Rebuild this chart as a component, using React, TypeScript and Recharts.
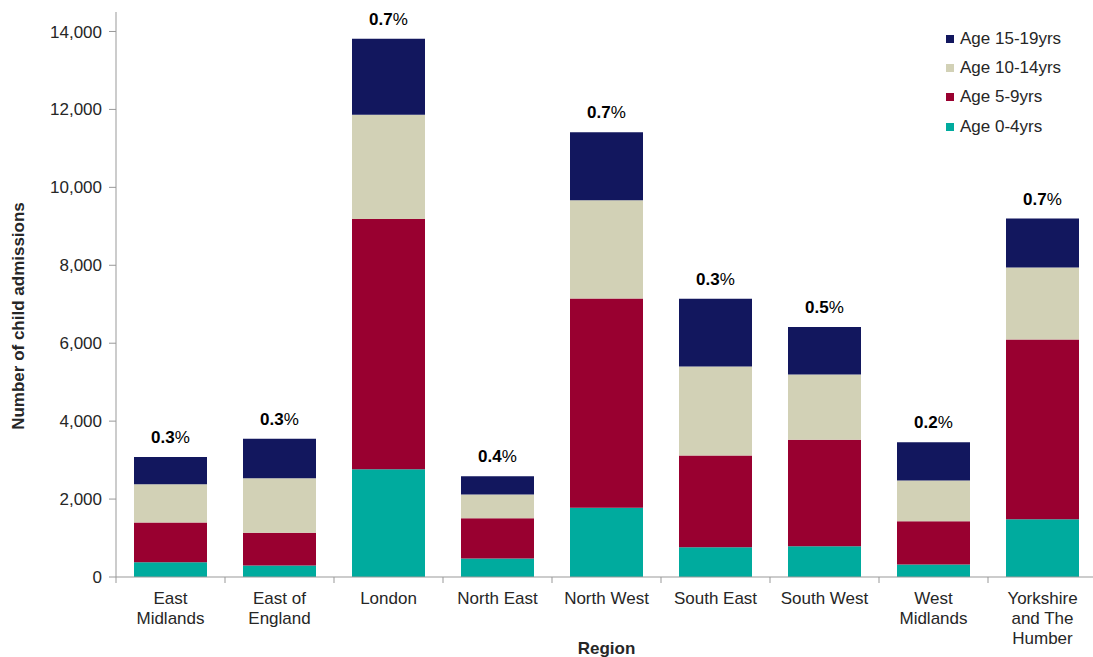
import React from 'react';
import { BarChart, Bar, XAxis, YAxis, Legend, LabelList, Label } from 'recharts';

const categories = ['East Midlands', 'East of England', 'London', 'North East', 'North West', 'South East', 'South West', 'West Midlands', 'Yorkshire and The Humber'];
const tickLines = [['East', 'Midlands'], ['East of', 'England'], ['London'], ['North East'], ['North West'], ['South East'], ['South West'], ['West', 'Midlands'], ['Yorkshire', 'and The', 'Humber']];
const age0_4 = [380, 295, 2765, 475, 1780, 765, 790, 320, 1480];
const age5_9 = [1020, 840, 6420, 1035, 5370, 2350, 2730, 1110, 4615];
const age10_14 = [980, 1400, 2680, 605, 2520, 2290, 1680, 1045, 1850];
const age15_19 = [700, 1010, 1950, 470, 1745, 1735, 1215, 980, 1255];
const pct = ['0.3', '0.3', '0.7', '0.4', '0.7', '0.3', '0.5', '0.2', '0.7'];
const yTicks = [0, 2000, 4000, 6000, 8000, 10000, 12000, 14000];

const series = [
  { key: 'a0', name: 'Age 0-4yrs', color: '#00AB9E' },
  { key: 'a5', name: 'Age 5-9yrs', color: '#990030' },
  { key: 'a10', name: 'Age 10-14yrs', color: '#D2D1B6' },
  { key: 'a15', name: 'Age 15-19yrs', color: '#12175E' },
];

const data = categories.map((c, i) => ({
  name: c,
  a0: age0_4[i],
  a5: age5_9[i],
  a10: age10_14[i],
  a15: age15_19[i],
  pct: pct[i],
}));

const FONT = '"Liberation Sans", Arial, sans-serif';
const TEXT = '#262626';

const XTick = (props: any) => {
  const { x, y, payload, index } = props;
  const n = categories.length;
  const band = (props.width && props.width > 0 ? props.width : 981) / n;
  const idx = typeof index === 'number' ? index : categories.indexOf(payload.value);
  const lines = tickLines[idx] || [payload.value];
  return (
    <g>
      <line x1={x - band / 2} x2={x - band / 2} y1={y} y2={y + 6} stroke="#999" />
      {idx === n - 1 && <line x1={x + band / 2} x2={x + band / 2} y1={y} y2={y + 6} stroke="#999" />}
      <text x={x} y={y + 27} textAnchor="middle" fontSize={17} fontFamily={FONT} fill={TEXT}>
        {lines.map((l: string, i: number) => (
          <tspan key={i} x={x} dy={i === 0 ? 0 : 20}>{l}</tspan>
        ))}
      </text>
    </g>
  );
};

const PctLabel = (props: any) => {
  const { x, y, width, value } = props;
  return (
    <text x={x + width / 2} y={y - 14} textAnchor="middle" fontSize={17} fontFamily={FONT} fill="#000">
      <tspan fontWeight="bold">{value}</tspan>
      <tspan>%</tspan>
    </text>
  );
};

const LegendContent = () => (
  <div style={{ fontFamily: FONT, fontSize: 17, color: TEXT }}>
    {[...series].reverse().map((s) => (
      <div key={s.key} style={{ display: 'flex', alignItems: 'center', height: 29.3, whiteSpace: 'nowrap' }}>
        <span style={{ display: 'inline-block', width: 8, height: 8, background: s.color, marginRight: 6 }} />
        <span>{s.name}</span>
      </div>
    ))}
  </div>
);

export default function App() {
  return (
    <div style={{ position: 'absolute', left: 0, top: 0, width: 1093, height: 657, overflow: 'hidden', background: '#fff' }}>
      <BarChart width={1097} height={657} data={data} margin={{ top: 12, right: 0, bottom: 0, left: 0 }} barSize={73}>
        <XAxis
          dataKey="name"
          height={80}
          tickLine={false}
          tickSize={0}
          tickMargin={0}
          axisLine={{ stroke: '#999' }}
          tick={<XTick />}
          interval={0}
        >
          <Label
            content={() => (
              <text x={606.5} y={654} textAnchor="middle" fontSize={17} fontWeight="bold" fontFamily={FONT} fill={TEXT}>
                Region
              </text>
            )}
          />
        </XAxis>
        <YAxis
          width={116}
          domain={[0, 14500]}
          ticks={yTicks}
          interval={0}
          tickSize={7}
          tickMargin={7}
          axisLine={{ stroke: '#999' }}
          tickLine={{ stroke: '#999' }}
          tick={{ fontSize: 17, fontFamily: FONT, fill: TEXT }}
          tickFormatter={(v: number) => v.toLocaleString('en-GB')}
        >
          <Label
            content={() => (
              <text
                x={24}
                y={316}
                transform="rotate(-90 24 316)"
                textAnchor="middle"
                fontSize={17}
                fontWeight="bold"
                fontFamily={FONT}
                fill={TEXT}
              >
                Number of child admissions
              </text>
            )}
          />
        </YAxis>
        <Legend
          content={<LegendContent />}
          layout="vertical"
          verticalAlign="middle"
          align="center"
          wrapperStyle={{ position: 'absolute', left: 946, top: 24, width: 150, height: 120 }}
        />
        {series.map((s, i) => (
          <Bar key={s.key} dataKey={s.key} name={s.name} stackId="a" fill={s.color} isAnimationActive={false}>
            {i === series.length - 1 && <LabelList dataKey="pct" content={<PctLabel />} />}
          </Bar>
        ))}
      </BarChart>
    </div>
  );
}
